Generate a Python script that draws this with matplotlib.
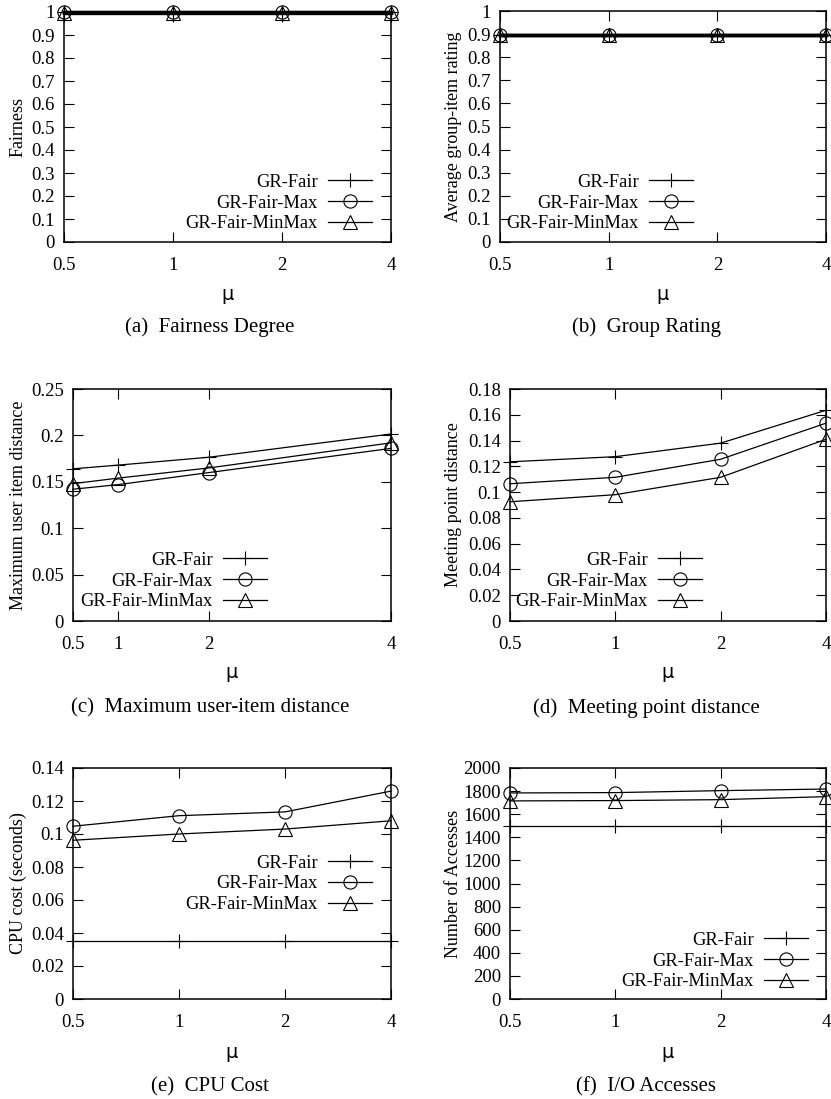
import matplotlib
matplotlib.use("Agg")
import matplotlib.pyplot as plt

plt.rcParams['font.family'] = ['Liberation Serif', 'DejaVu Serif']

# Shared x settings
mu_labels = ["0.5", "1", "2", "4"]
mu_values = [0.5, 1, 2, 4]
series_names = ["GR-Fair", "GR-Fair-Max", "GR-Fair-MinMax"]
series_markers = ["+", "o", "^"]

# (a) Fairness degree
fair_fairness = [1.0, 1.0, 1.0, 1.0]
fairmax_fairness = [0.998, 0.998, 0.998, 0.998]
minmax_fairness = [0.997, 0.997, 0.997, 0.997]

# (b) Group rating
fair_rating = [0.897, 0.897, 0.897, 0.897]
fairmax_rating = [0.895, 0.895, 0.895, 0.895]
minmax_rating = [0.894, 0.894, 0.894, 0.894]

# (c) Maximum user-item distance
fair_maxdist = [0.164, 0.168, 0.1765, 0.2015]
fairmax_maxdist = [0.142, 0.147, 0.160, 0.186]
minmax_maxdist = [0.148, 0.154, 0.165, 0.192]

# (d) Meeting point distance
fair_meet = [0.1235, 0.1275, 0.138, 0.1635]
fairmax_meet = [0.1065, 0.1115, 0.1255, 0.1535]
minmax_meet = [0.0925, 0.098, 0.1115, 0.141]

# (e) CPU cost
fair_cpu = [0.035, 0.035, 0.035, 0.035]
fairmax_cpu = [0.1047, 0.1111, 0.1134, 0.126]
minmax_cpu = [0.0962, 0.1000, 0.1030, 0.1080]

# (f) I/O accesses
fair_io = [1500, 1500, 1500, 1500]
fairmax_io = [1784, 1787, 1804, 1818]
minmax_io = [1715, 1718, 1726, 1752]

W, H = 831, 1099
fig = plt.figure(figsize=(W / 100, H / 100), dpi=100)


def box(l, t, r, b):
    return [l / W, 1 - b / H, (r - l) / W, (b - t) / H]


def fx(px):
    return px / W


def fy(py):
    return 1 - py / H


def fmt_ticks(vals):
    return [("%g" % v) for v in vals]


panels = [
    dict(px=(64, 12, 391, 242), data=[fair_fairness, fairmax_fairness, minmax_fairness],
         ylim=(0, 1), yticks=[0, 0.1, 0.2, 0.3, 0.4, 0.5, 0.6, 0.7, 0.8, 0.9, 1],
         ylabel="Fairness", linear=False, leg=(372, 203), ylab_x=27, mu_y=295,
         caption="(a)  Fairness Degree", cap=(210, 327), lw=2.4),
    dict(px=(500, 11, 826, 242), data=[fair_rating, fairmax_rating, minmax_rating],
         ylim=(0, 1), yticks=[0, 0.1, 0.2, 0.3, 0.4, 0.5, 0.6, 0.7, 0.8, 0.9, 1],
         ylabel="Average group-item rating", linear=False, leg=(693, 203), ylab_x=462, mu_y=295,
         caption="(b)  Group Rating", cap=(646, 327), lw=2.4),
    dict(px=(73, 389, 391, 621), data=[fair_maxdist, fairmax_maxdist, minmax_maxdist],
         ylim=(0, 0.25), yticks=[0, 0.05, 0.1, 0.15, 0.2, 0.25],
         ylabel="Maximum user item distance", linear=True, leg=(267, 581), ylab_x=27, mu_y=673,
         caption="(c)  Maximum user-item distance", cap=(210, 708), lw=0.9),
    dict(px=(510, 389, 826, 621), data=[fair_meet, fairmax_meet, minmax_meet],
         ylim=(0, 0.18), yticks=[0, 0.02, 0.04, 0.06, 0.08, 0.1, 0.12, 0.14, 0.16, 0.18],
         ylabel="Meeting point distance", linear=False, leg=(702, 581), ylab_x=462, mu_y=673,
         caption="(d)  Meeting point distance", cap=(646, 708), lw=0.9),
    dict(px=(73, 768, 391, 999), data=[fair_cpu, fairmax_cpu, minmax_cpu],
         ylim=(0, 0.14), yticks=[0, 0.02, 0.04, 0.06, 0.08, 0.1, 0.12, 0.14],
         ylabel="CPU cost (seconds)", linear=False, leg=(372, 884), ylab_x=27, mu_y=1053,
         caption="(e)  CPU Cost", cap=(210, 1087), lw=0.9),
    dict(px=(510, 768, 826, 999), data=[fair_io, fairmax_io, minmax_io],
         ylim=(0, 2000), yticks=list(range(0, 2001, 200)),
         ylabel="Number of Accesses", linear=False, leg=(808, 961), ylab_x=462, mu_y=1053,
         caption="(f)  I/O Accesses", cap=(646, 1087), lw=0.9),
]

for p in panels:
    l, t, r, b = p["px"]
    ax = fig.add_axes(box(l, t, r, b))
    if p["linear"]:
        xs = mu_values
        ax.set_xlim(0.5, 4)
    else:
        xs = list(range(len(mu_labels)))
        ax.set_xlim(0, len(mu_labels) - 1)
    for vals, name, mk in zip(p["data"], series_names, series_markers):
        ax.plot(xs, vals, color="black", lw=p["lw"], marker=mk, markersize=9.5,
                markerfacecolor="none", markeredgecolor="black", markeredgewidth=0.8,
                label=name, clip_on=False, zorder=3)
    ax.set_ylim(*p["ylim"])
    ax.set_yticks(p["yticks"])
    ax.set_yticklabels(fmt_ticks(p["yticks"]))
    ax.set_xticks(xs)
    ax.set_xticklabels(mu_labels)
    ax.tick_params(direction="in", length=7, width=0.8, top=True, right=True,
                   labelsize=13.5)
    ax.tick_params(axis="y", pad=6.5)
    ax.tick_params(axis="x", pad=11)
    for s in ax.spines.values():
        s.set_linewidth(1.1)
    ax.set_ylabel(p["ylabel"], fontsize=13)
    ax.yaxis.set_label_coords((p["ylab_x"] - l) / (r - l), 0.5)
    # legend: handle's right end and middle row centre given in pixels
    lx, ly = p["leg"]
    leg = ax.legend(loc="center right", bbox_to_anchor=(fx(lx), fy(ly)),
                    bbox_transform=fig.transFigure, markerfirst=False,
                    frameon=False, fontsize=13.3, handlelength=2.4, numpoints=1,
                    labelspacing=0.21, handletextpad=0.55, borderaxespad=0,
                    borderpad=0)
    for h in leg.legend_handles:
        h.set_linewidth(0.9)
    fig.text(fx((l + r) / 2), fy(p["mu_y"]), "\u03bc", ha="center", va="center",
             fontsize=14, family=["DejaVu Sans"])
    fig.text(fx(p["cap"][0]), fy(p["cap"][1]), p["caption"], ha="center", va="center",
             fontsize=15)

fig.savefig("out.png", dpi=100)
